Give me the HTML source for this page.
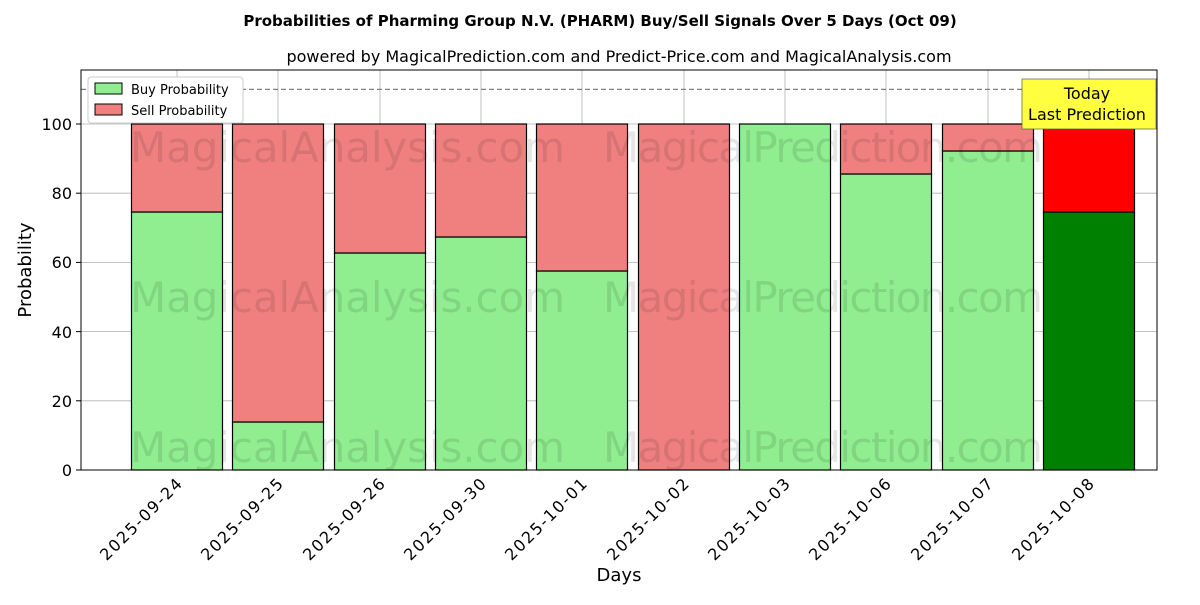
<!DOCTYPE html>
<html><head><meta charset="utf-8"><style>
body{margin:0;background:#fff;}
svg text{font-family:"DejaVu Sans","Liberation Sans",sans-serif;}
</style></head><body>
<svg width="1200" height="600" xmlns="http://www.w3.org/2000/svg">
<rect width="1200" height="600" fill="#fff"/>
<text x="600" y="26" text-anchor="middle" font-size="15" font-weight="bold">Probabilities of Pharming Group N.V. (PHARM) Buy/Sell Signals Over 5 Days (Oct 09)</text>
<text x="619" y="62" text-anchor="middle" font-size="16">powered by MagicalPrediction.com and Predict-Price.com and MagicalAnalysis.com</text>
<g stroke="#b0b0b0" stroke-width="0.8">
<line x1="177" y1="70" x2="177" y2="470"/><line x1="278" y1="70" x2="278" y2="470"/><line x1="380" y1="70" x2="380" y2="470"/><line x1="481" y1="70" x2="481" y2="470"/><line x1="582" y1="70" x2="582" y2="470"/><line x1="684" y1="70" x2="684" y2="470"/><line x1="785" y1="70" x2="785" y2="470"/><line x1="886" y1="70" x2="886" y2="470"/><line x1="988" y1="70" x2="988" y2="470"/><line x1="1089" y1="70" x2="1089" y2="470"/>
<line x1="81" y1="400.8" x2="1157" y2="400.8"/><line x1="81" y1="331.6" x2="1157" y2="331.6"/><line x1="81" y1="262.4" x2="1157" y2="262.4"/><line x1="81" y1="193.2" x2="1157" y2="193.2"/><line x1="81" y1="124" x2="1157" y2="124"/>
</g>
<g stroke="#000" stroke-width="1.2">
<rect x="131.5" y="212" width="91" height="258" fill="#90ee90"/><rect x="131.5" y="124" width="91" height="88" fill="#f08080"/>
<rect x="232.5" y="422" width="91" height="48" fill="#90ee90"/><rect x="232.5" y="124" width="91" height="298" fill="#f08080"/>
<rect x="334.5" y="253" width="91" height="217" fill="#90ee90"/><rect x="334.5" y="124" width="91" height="129" fill="#f08080"/>
<rect x="435.5" y="237" width="91" height="233" fill="#90ee90"/><rect x="435.5" y="124" width="91" height="113" fill="#f08080"/>
<rect x="536.5" y="271" width="91" height="199" fill="#90ee90"/><rect x="536.5" y="124" width="91" height="147" fill="#f08080"/>
<rect x="638.5" y="124" width="91" height="346" fill="#f08080"/>
<rect x="739.5" y="124" width="91" height="346" fill="#90ee90"/>
<rect x="840.5" y="174" width="91" height="296" fill="#90ee90"/><rect x="840.5" y="124" width="91" height="50" fill="#f08080"/>
<rect x="942.5" y="151" width="91" height="319" fill="#90ee90"/><rect x="942.5" y="124" width="91" height="27" fill="#f08080"/>
<rect x="1043.5" y="212" width="91" height="258" fill="#008000"/><rect x="1043.5" y="124" width="91" height="88" fill="#ff0000"/>
</g>
<g fill="#000" fill-opacity="0.1" font-size="42" lengthAdjust="spacingAndGlyphs">
<text x="130" y="162" textLength="435">MagicalAnalysis.com</text><text x="603" y="162" textLength="440">MagicalPrediction.com</text>
<text x="130" y="312" textLength="435">MagicalAnalysis.com</text><text x="603" y="312" textLength="440">MagicalPrediction.com</text>
<text x="130" y="462" textLength="435">MagicalAnalysis.com</text><text x="603" y="462" textLength="440">MagicalPrediction.com</text>
</g>
<line x1="81" y1="89.4" x2="1157" y2="89.4" stroke="#808080" stroke-width="1.3" stroke-dasharray="5,3"/>
<rect x="81" y="70" width="1076" height="400" fill="none" stroke="#000" stroke-width="1"/>
<rect x="1022" y="79" width="134" height="50" fill="#ffff40" stroke="#555" stroke-opacity="0.7"/>
<text x="1087" y="99" text-anchor="middle" font-size="16">Today</text>
<text x="1087" y="120" text-anchor="middle" font-size="16">Last Prediction</text>
<rect x="88" y="77" width="155" height="46" fill="#fff" stroke="#ccc" rx="3"/>
<rect x="95" y="83" width="27" height="11" fill="#90ee90" stroke="#000"/>
<text x="131" y="94" font-size="13">Buy Probability</text>
<rect x="95" y="104" width="27" height="11" fill="#f08080" stroke="#000"/>
<text x="131" y="115" font-size="13">Sell Probability</text>
<g font-size="16" text-anchor="end">
<text x="72" y="476">0</text><text x="72" y="407">20</text><text x="72" y="338">40</text><text x="72" y="268">60</text><text x="72" y="199">80</text><text x="72" y="130">100</text>
</g>
<g stroke="#000"><line x1="76" y1="470" x2="81" y2="470"/><line x1="76" y1="400.8" x2="81" y2="400.8"/><line x1="76" y1="331.6" x2="81" y2="331.6"/><line x1="76" y1="262.4" x2="81" y2="262.4"/><line x1="76" y1="193.2" x2="81" y2="193.2"/><line x1="76" y1="124" x2="81" y2="124"/></g>
<text transform="translate(31,270) rotate(-90)" text-anchor="middle" font-size="18">Probability</text>
<g font-size="16" text-anchor="end" lengthAdjust="spacingAndGlyphs">
<text transform="translate(183,485) rotate(-45)" textLength="108">2025-09-24</text>
<text transform="translate(284,485) rotate(-45)" textLength="108">2025-09-25</text>
<text transform="translate(386,485) rotate(-45)" textLength="108">2025-09-26</text>
<text transform="translate(487,485) rotate(-45)" textLength="108">2025-09-30</text>
<text transform="translate(588,485) rotate(-45)" textLength="108">2025-10-01</text>
<text transform="translate(690,485) rotate(-45)" textLength="108">2025-10-02</text>
<text transform="translate(791,485) rotate(-45)" textLength="108">2025-10-03</text>
<text transform="translate(892,485) rotate(-45)" textLength="108">2025-10-06</text>
<text transform="translate(994,485) rotate(-45)" textLength="108">2025-10-07</text>
<text transform="translate(1095,485) rotate(-45)" textLength="108">2025-10-08</text>
</g>
<text x="619" y="581" text-anchor="middle" font-size="18">Days</text>
</svg>
</body></html>
